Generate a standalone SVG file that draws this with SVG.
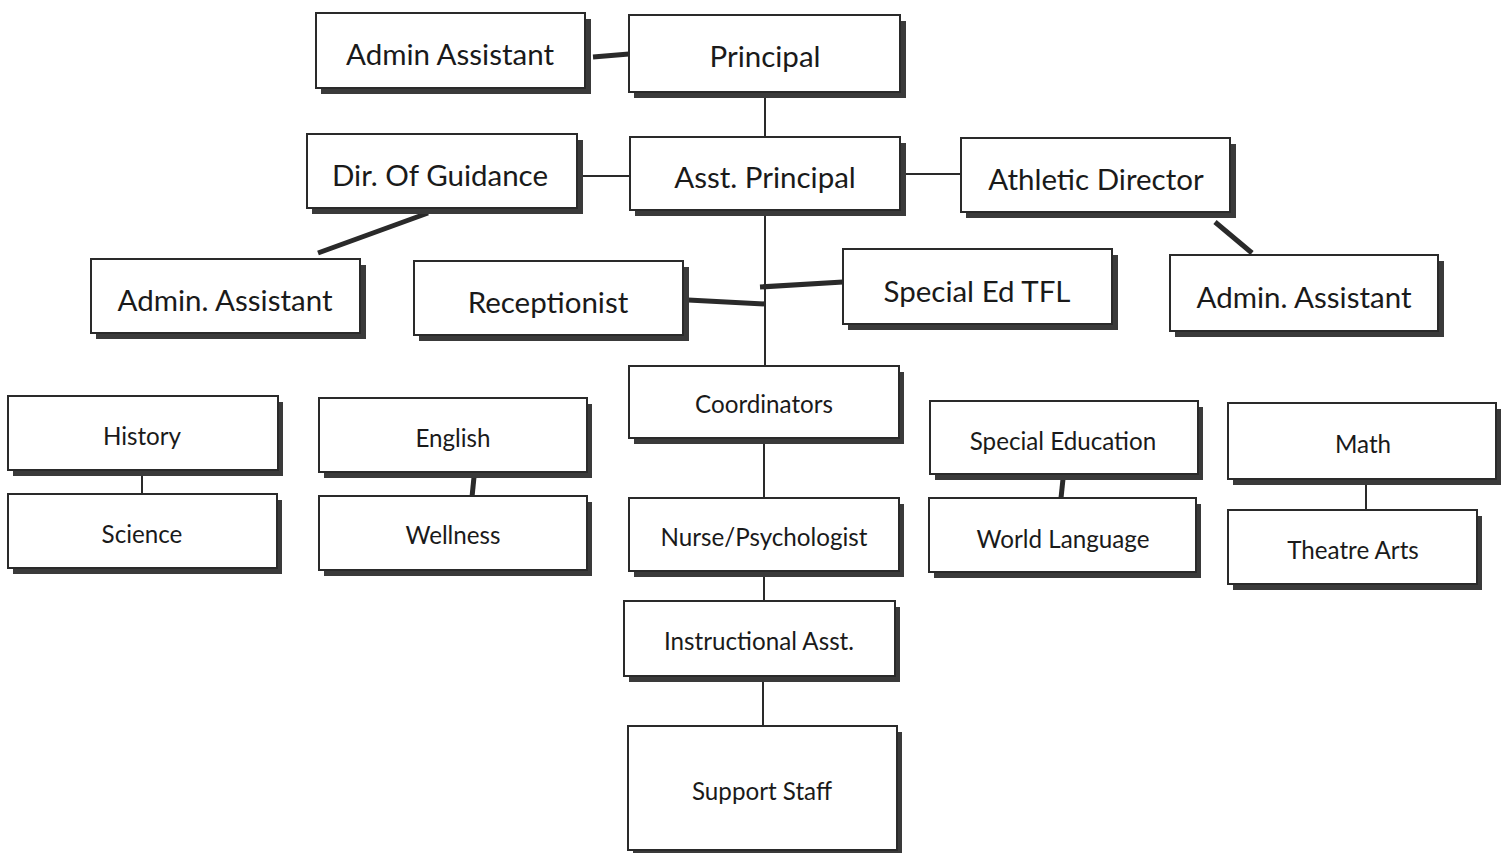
<svg xmlns="http://www.w3.org/2000/svg" width="1510" height="853" viewBox="0 0 1510 853">
  <style>
    .shadow { fill: #3a3a3a; }
    .box { fill: #ffffff; stroke: #2a2a2a; stroke-width: 2; }
    .lbl { font-family: Lato, "Open Sans", "Liberation Sans", sans-serif; fill: #1a1a1a; text-anchor: middle; dominant-baseline: central; }
    .big { font-size: 29.5px; }
    .small { font-size: 24.2px; }
    .thin { stroke: #2a2a2a; stroke-width: 2; fill: none; }
    .thick { stroke: #2a2a2a; stroke-width: 5; fill: none; }
  </style>
  <rect width="1510" height="853" fill="#ffffff"/>

  <!-- connectors -->
  <g id="connectors">
    <line class="thick" x1="593" y1="57" x2="629" y2="54"/>
    <line class="thin" x1="765" y1="92" x2="765" y2="137"/>
    <line class="thin" x1="578" y1="176" x2="630" y2="176"/>
    <line class="thin" x1="902" y1="174" x2="961" y2="174"/>
    <line class="thick" x1="428" y1="213" x2="318" y2="253"/>
    <line class="thick" x1="1215" y1="222" x2="1252" y2="253"/>
    <line class="thin" x1="765" y1="210" x2="765" y2="366"/>
    <line class="thick" x1="688" y1="300" x2="765" y2="304"/>
    <line class="thick" x1="760" y1="287" x2="843" y2="282"/>
    <line class="thin" x1="764" y1="438" x2="764" y2="498"/>
    <line class="thin" x1="764" y1="573" x2="764" y2="601"/>
    <line class="thin" x1="763" y1="676" x2="763" y2="726"/>
    <line class="thin" x1="142" y1="470" x2="142" y2="494"/>
    <line class="thick" x1="474" y1="477" x2="472" y2="497"/>
    <line class="thick" x1="1063" y1="479" x2="1061" y2="498"/>
    <line class="thin" x1="1366" y1="484" x2="1366" y2="510"/>
  </g>

  <!-- nodes -->
  <g id="admin-assistant-top">
    <rect class="shadow" x="321" y="19" width="270" height="75"/>
    <rect class="box" x="316" y="13" width="269" height="75"/>
    <text class="lbl big" x="450" y="53">Admin Assistant</text>
  </g>
  <g id="principal">
    <rect class="shadow" x="634" y="21" width="272" height="77"/>
    <rect class="box" x="629" y="15" width="271" height="77"/>
    <text class="lbl big" x="765" y="55">Principal</text>
  </g>
  <g id="dir-of-guidance">
    <rect class="shadow" x="312" y="140" width="271" height="74"/>
    <rect class="box" x="307" y="134" width="270" height="74"/>
    <text class="lbl big" x="440" y="174">Dir. Of Guidance</text>
  </g>
  <g id="asst-principal">
    <rect class="shadow" x="635" y="143" width="271" height="73"/>
    <rect class="box" x="630" y="137" width="270" height="73"/>
    <text class="lbl big" x="765" y="176">Asst. Principal</text>
  </g>
  <g id="athletic-director">
    <rect class="shadow" x="966" y="144" width="270" height="74"/>
    <rect class="box" x="961" y="138" width="269" height="74"/>
    <text class="lbl big" x="1096" y="178">Athletic Director</text>
  </g>
  <g id="admin-assistant-left">
    <rect class="shadow" x="96" y="265" width="270" height="74"/>
    <rect class="box" x="91" y="259" width="269" height="74"/>
    <text class="lbl big" x="225" y="299">Admin. Assistant</text>
  </g>
  <g id="receptionist">
    <rect class="shadow" x="419" y="267" width="270" height="74"/>
    <rect class="box" x="414" y="261" width="269" height="74"/>
    <text class="lbl big" x="548" y="301">Receptionist</text>
  </g>
  <g id="special-ed-tfl">
    <rect class="shadow" x="848" y="255" width="270" height="75"/>
    <rect class="box" x="843" y="249" width="269" height="75"/>
    <text class="lbl big" x="977" y="290">Special Ed TFL</text>
  </g>
  <g id="admin-assistant-right">
    <rect class="shadow" x="1175" y="261" width="269" height="76"/>
    <rect class="box" x="1170" y="255" width="268" height="76"/>
    <text class="lbl big" x="1304" y="296">Admin. Assistant</text>
  </g>

  <g id="history">
    <rect class="shadow" x="13" y="402" width="270" height="74"/>
    <rect class="box" x="8" y="396" width="270" height="74"/>
    <text class="lbl small" x="142" y="435">History</text>
  </g>
  <g id="science">
    <rect class="shadow" x="13" y="500" width="269" height="74"/>
    <rect class="box" x="8" y="494" width="269" height="74"/>
    <text class="lbl small" x="142" y="533">Science</text>
  </g>
  <g id="english">
    <rect class="shadow" x="324" y="404" width="268" height="74"/>
    <rect class="box" x="319" y="398" width="268" height="74"/>
    <text class="lbl small" x="453" y="437">English</text>
  </g>
  <g id="wellness">
    <rect class="shadow" x="324" y="502" width="268" height="74"/>
    <rect class="box" x="319" y="496" width="268" height="74"/>
    <text class="lbl small" x="453" y="534">Wellness</text>
  </g>
  <g id="coordinators">
    <rect class="shadow" x="634" y="372" width="270" height="72"/>
    <rect class="box" x="629" y="366" width="270" height="72"/>
    <text class="lbl small" x="764" y="403">Coordinators</text>
  </g>
  <g id="nurse-psychologist">
    <rect class="shadow" x="634" y="504" width="270" height="73"/>
    <rect class="box" x="629" y="498" width="270" height="73"/>
    <text class="lbl small" x="764" y="536">Nurse/Psychologist</text>
  </g>
  <g id="instructional-asst">
    <rect class="shadow" x="629" y="607" width="271" height="75"/>
    <rect class="box" x="624" y="601" width="271" height="75"/>
    <text class="lbl small" x="759" y="640">Instructional Asst.</text>
  </g>
  <g id="support-staff">
    <rect class="shadow" x="633" y="732" width="269" height="124"/>
    <rect class="box" x="628" y="726" width="269" height="124"/>
    <text class="lbl small" x="762" y="790">Support Staff</text>
  </g>
  <g id="special-education">
    <rect class="shadow" x="935" y="407" width="268" height="73"/>
    <rect class="box" x="930" y="401" width="268" height="73"/>
    <text class="lbl small" x="1063" y="440">Special Education</text>
  </g>
  <g id="world-language">
    <rect class="shadow" x="934" y="504" width="267" height="74"/>
    <rect class="box" x="929" y="498" width="267" height="74"/>
    <text class="lbl small" x="1063" y="538">World Language</text>
  </g>
  <g id="math">
    <rect class="shadow" x="1233" y="409" width="268" height="76"/>
    <rect class="box" x="1228" y="403" width="268" height="76"/>
    <text class="lbl small" x="1363" y="443">Math</text>
  </g>
  <g id="theatre-arts">
    <rect class="shadow" x="1233" y="516" width="249" height="74"/>
    <rect class="box" x="1228" y="510" width="249" height="74"/>
    <text class="lbl small" x="1353" y="549">Theatre Arts</text>
  </g>
</svg>
